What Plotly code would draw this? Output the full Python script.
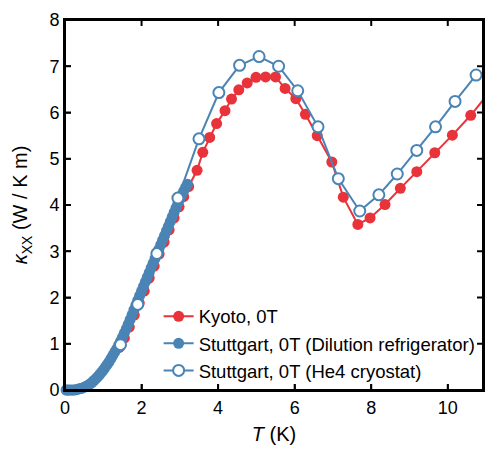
import plotly.graph_objects as go

# Kyoto, 0T
kyoto_T = [1.42, 1.55, 1.68, 1.81, 1.94, 2.07, 2.20, 2.33, 2.46, 2.59, 2.72, 2.85, 2.98, 3.10,
           3.23, 3.45, 3.60, 3.78, 3.96, 4.18, 4.35, 4.54, 4.76, 4.99, 5.24, 5.50, 5.75, 6.03,
           6.28, 6.59, 6.97, 7.27, 7.65, 7.97, 8.36, 8.76, 9.19, 9.66, 10.12, 10.60, 11.10]
kyoto_k = [0.92, 1.12, 1.36, 1.62, 1.88, 2.14, 2.42, 2.68, 2.94, 3.20, 3.46, 3.72, 3.96, 4.18,
           4.40, 4.75, 5.14, 5.46, 5.76, 6.04, 6.29, 6.49, 6.64, 6.76, 6.77, 6.77, 6.52, 6.30,
           5.96, 5.50, 4.93, 4.17, 3.58, 3.72, 4.01, 4.36, 4.72, 5.13, 5.51, 5.94, 6.45]

# Stuttgart, 0T (Dilution refrigerator)
dil_T = [0.03, 0.06, 0.10, 0.15, 0.20, 0.25, 0.30, 0.35, 0.40, 0.45, 0.50, 0.55, 0.60, 0.65,
         0.70, 0.75, 0.80, 0.85, 0.90, 0.95, 1.00, 1.05, 1.10, 1.15, 1.20, 1.25, 1.30, 1.35,
         1.40, 1.45, 1.50, 1.55, 1.60, 1.65, 1.70, 1.75, 1.80, 1.85, 1.90, 1.95, 2.00, 2.05,
         2.10, 2.15, 2.20, 2.25, 2.30, 2.35, 2.40, 2.45, 2.50, 2.55, 2.60, 2.65, 2.70, 2.75,
         2.80, 2.85, 2.90, 2.95, 3.00, 3.05, 3.10, 3.15, 3.20]
dil_k = [0.00, 0.00, 0.00, 0.00, 0.00, 0.00, 0.01, 0.02, 0.03, 0.04, 0.06, 0.08, 0.10, 0.13,
         0.16, 0.20, 0.24, 0.28, 0.33, 0.38, 0.43, 0.49, 0.55, 0.61, 0.68, 0.75, 0.82, 0.89,
         0.97, 1.05, 1.14, 1.23, 1.32, 1.42, 1.52, 1.62, 1.73, 1.83, 1.94, 2.04, 2.14, 2.24,
         2.34, 2.44, 2.54, 2.64, 2.74, 2.84, 2.94, 3.04, 3.14, 3.24, 3.34, 3.44, 3.54, 3.64,
         3.74, 3.84, 3.94, 4.04, 4.13, 4.22, 4.30, 4.38, 4.45]

# Stuttgart, 0T (He4 cryostat)
he4_T = [1.45, 1.90, 2.40, 2.95, 3.50, 4.02, 4.56, 5.07, 5.58, 6.08, 6.61, 7.14, 7.70, 8.20,
         8.68, 9.19, 9.68, 10.19, 10.74]
he4_k = [0.98, 1.85, 2.95, 4.15, 5.43, 6.43, 7.02, 7.21, 7.00, 6.47, 5.69, 4.57, 3.87, 4.22,
         4.67, 5.18, 5.69, 6.24, 6.81]

x_ticks = [0, 2, 4, 6, 8, 10]
y_ticks = [0, 1, 2, 3, 4, 5, 6, 7, 8]

RED = "#E8333A"
BLUE = "#4A84B5"
FONT = "Liberation Sans, Arial, sans-serif"

# page body adds an 8 px offset, so the figure is kept inside the visible page
W, H = 479, 439
ML, MR, MT, MB = 57, 2, 10, 57
PW, PH = W - ML - MR, H - MT - MB
TICK = 6

fig = go.Figure()
fig.add_trace(go.Scatter(x=kyoto_T, y=kyoto_k, mode="lines+markers", name="Kyoto, 0T",
                         line=dict(color=RED, width=2),
                         marker=dict(color=RED, size=11, symbol="circle")))
fig.add_trace(go.Scatter(x=dil_T, y=dil_k, mode="lines+markers",
                         name="Stuttgart, 0T (Dilution refrigerator)",
                         line=dict(color=BLUE, width=2), cliponaxis=False,
                         marker=dict(color=BLUE, size=11, symbol="circle")))
fig.add_trace(go.Scatter(x=he4_T, y=he4_k, mode="lines+markers",
                         name="Stuttgart, 0T (He4 cryostat)",
                         line=dict(color=BLUE, width=2),
                         marker=dict(color="white", size=11, symbol="circle",
                                     line=dict(color=BLUE, width=2))))

fig.update_xaxes(range=[0, 10.92], tickvals=x_ticks,
                 showline=True, linecolor="black", linewidth=2, mirror=True,
                 ticks="inside", ticklen=TICK, tickwidth=2,
                 showgrid=False,
                 tickfont=dict(family=FONT, size=18, color="black"),
                 title=dict(text="<i>T</i> (K)", font=dict(family=FONT, size=20, color="black"),
                            standoff=10))
fig.update_yaxes(range=[0, 8], tickvals=y_ticks,
                 showline=True, linecolor="black", linewidth=2, mirror=True,
                 ticks="inside", ticklen=TICK, tickwidth=2,
                 showgrid=False,
                 tickfont=dict(family=FONT, size=18, color="black"),
                 title=dict(text="<i>κ</i><sub>XX</sub> (W / K m)",
                            font=dict(family=FONT, size=20, color="black"), standoff=16))

# frame and inward tick marks on all four sides (drawn as shapes as well)
fig.add_shape(type="rect", xref="paper", yref="paper", x0=0, y0=0, x1=1, y1=1,
              line=dict(color="black", width=2), layer="above")
for v in x_ticks:
    for y0, y1 in [(0, TICK / PH), (1 - TICK / PH, 1)]:
        fig.add_shape(type="line", xref="x", yref="paper", x0=v, x1=v, y0=y0, y1=y1,
                      line=dict(color="black", width=2), layer="above")
for v in y_ticks:
    for x0, x1 in [(0, TICK / PW), (1 - TICK / PW, 1)]:
        fig.add_shape(type="line", xref="paper", yref="y", x0=x0, x1=x1, y0=v, y1=v,
                      line=dict(color="black", width=2), layer="above")

fig.update_layout(
    width=W, height=H,
    margin=dict(l=ML, r=MR, t=MT, b=MB),
    plot_bgcolor="white", paper_bgcolor="white",
    showlegend=True,
    legend=dict(x=0.224, y=0.125, xanchor="left", yanchor="middle",
                bgcolor="rgba(0,0,0,0)", font=dict(family=FONT, size=18.5, color="black"),
                itemwidth=30, tracegroupgap=0),
)

fig.write_html("out.html")
